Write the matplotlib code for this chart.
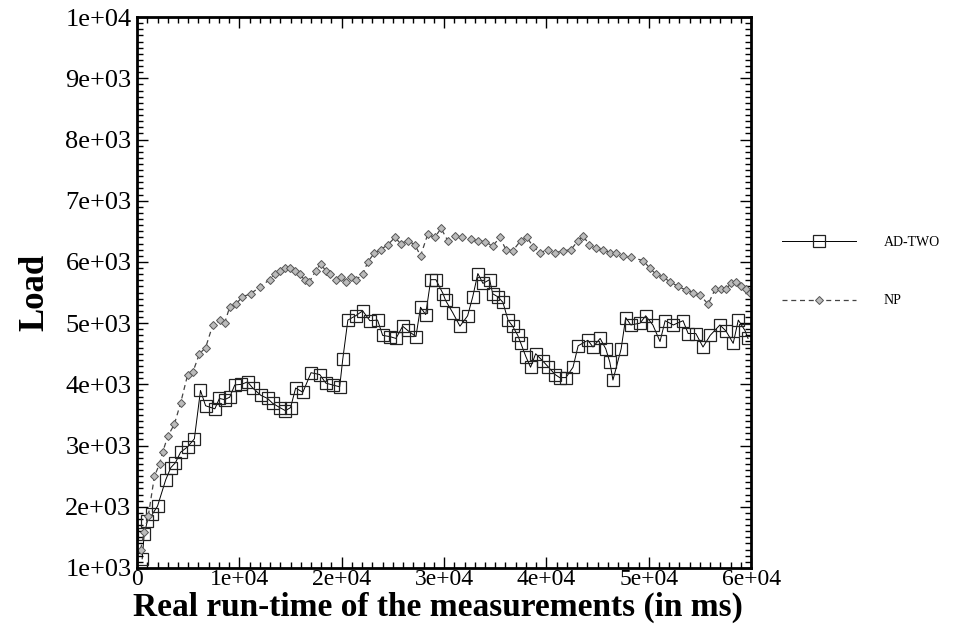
import matplotlib
matplotlib.use("Agg")
import matplotlib.pyplot as plt
from matplotlib.ticker import MultipleLocator, FuncFormatter

plt.rcParams["font.family"] = ["Liberation Serif", "DejaVu Serif"]

# AD-TWO series (time in ms, load)
ad_time = [500, 700, 1000, 1500, 2000, 2800, 3300, 3750, 4250, 4950,
           5600, 6200, 6700, 7600, 8050, 8550, 9050, 9550, 10200, 10800,
           11300, 12100, 12750, 13250, 13950, 14500, 15000, 15500, 16200, 17000,
           17850, 18450, 19100, 19800, 20100, 20600, 21350, 22050, 22750, 23500,
           24000, 24700, 25300, 25950, 26450, 27250, 27700, 28200, 28700, 29200,
           29900, 30150, 30850, 31550, 32300, 32800, 33300, 33800, 34450, 34750,
           35250, 35750, 36250, 36700, 37200, 37500, 38000, 38450, 38950, 39650,
           40150, 40850, 41300, 41900, 42600, 43100, 44050, 44550, 45250, 45800,
           46200, 46500, 47300, 47750, 48250, 49150, 49700, 50400, 51100, 51600,
           52400, 53350, 53850, 54600, 55300, 56000, 56950, 57550, 58250, 58750,
           59400, 59700]
ad_load = [1150, 1550, 1760, 1880, 2010, 2440, 2640, 2720, 2890, 2980,
           3110, 3900, 3650, 3600, 3770, 3750, 3790, 3990, 4000, 4040,
           3940, 3820, 3770, 3690, 3620, 3570, 3620, 3940, 3870, 4190,
           4160, 4020, 3990, 3960, 4410, 5050, 5120, 5200, 5040, 5050,
           4800, 4780, 4750, 4950, 4880, 4780, 5260, 5140, 5710, 5710,
           5480, 5370, 5170, 4950, 5120, 5430, 5810, 5650, 5710, 5480,
           5430, 5340, 5050, 4950, 4800, 4670, 4450, 4280, 4500, 4380,
           4290, 4160, 4110, 4110, 4280, 4630, 4720, 4610, 4750, 4580,
           4360, 4070, 4580, 5090, 4970, 5000, 5120, 4970, 4700, 5040,
           4970, 5040, 4830, 4830, 4610, 4800, 4970, 4870, 4670, 5050,
           4880, 4750]

# NP series (time in ms, load)
np_time = [350, 700, 1100, 1700, 2200, 2500, 3000, 3650, 4250, 4950,
           5450, 6100, 6700, 7400, 8150, 8550, 9050, 9650, 10300, 11100,
           12000, 12950, 13450, 13950, 14450, 14900, 15400, 15900, 16400, 16850,
           17450, 17950, 18450, 18900, 19400, 19900, 20400, 20900, 21350, 22050,
           22550, 23200, 23800, 24500, 25200, 25750, 26450, 27150, 27700, 28400,
           29100, 29700, 30350, 31050, 31800, 32600, 33300, 34000, 34750, 35450,
           36050, 36700, 37500, 38100, 38700, 39350, 40150, 40850, 41600, 42400,
           43100, 43600, 44200, 44850, 45550, 46200, 46800, 47500, 48250, 49450,
           50100, 50700, 51400, 52050, 52850, 53650, 54350, 55000, 55800, 56500,
           57050, 57550, 58050, 58550, 59000, 59500, 59900]
np_load = [1300, 1590, 1850, 2500, 2700, 2890, 3150, 3350, 3690, 4160,
           4200, 4500, 4600, 4970, 5050, 5000, 5260, 5310, 5430, 5480,
           5590, 5710, 5800, 5850, 5900, 5900, 5850, 5800, 5700, 5680,
           5850, 5970, 5850, 5800, 5700, 5750, 5680, 5760, 5700, 5800,
           6000, 6150, 6200, 6280, 6400, 6300, 6350, 6280, 6100, 6450,
           6400, 6550, 6350, 6420, 6400, 6380, 6350, 6330, 6260, 6400,
           6200, 6180, 6350, 6400, 6250, 6150, 6200, 6150, 6180, 6200,
           6350, 6420, 6280, 6220, 6200, 6150, 6150, 6100, 6080, 6020,
           5900, 5800, 5750, 5680, 5600, 5540, 5500, 5460, 5310, 5560,
           5550, 5560, 5650, 5680, 5600, 5560, 5500]

x_ticks = [0, 10000, 20000, 30000, 40000, 50000, 60000]
y_ticks = [1000, 2000, 3000, 4000, 5000, 6000, 7000, 8000, 9000, 10000]


def sci_label(v, pos):
    if v == 0:
        return "0"
    return f"{v:.0e}"


fig = plt.figure(figsize=(9.55, 6.26), dpi=100)
ax = fig.add_axes([0.1435, 0.0927, 0.643, 0.88])

ax.plot(ad_time, ad_load, color="black", linewidth=0.7, marker="s",
        markersize=9, markerfacecolor="none", markeredgecolor="#222222",
        markeredgewidth=0.9, label="AD-TWO")
ax.plot(np_time, np_load, color="#444444", linewidth=0.9, linestyle=(0, (4, 3)),
        marker="D", markersize=4.5, markerfacecolor="#bbbbbb",
        markeredgecolor="#555555", markeredgewidth=0.7, label="NP")

ax.set_xlim(0, 60000)
ax.set_ylim(1000, 10000)
ax.set_xticks(x_ticks)
ax.set_yticks(y_ticks)
ax.xaxis.set_minor_locator(MultipleLocator(1000))
ax.yaxis.set_minor_locator(MultipleLocator(100))
ax.xaxis.set_major_formatter(FuncFormatter(sci_label))
ax.yaxis.set_major_formatter(FuncFormatter(sci_label))

ax.tick_params(which="both", direction="in", top=True, right=True,
               width=1, colors="black")
ax.tick_params(which="major", length=8)
ax.tick_params(which="minor", length=4)
ax.tick_params(axis="y", labelsize=19, pad=4)
ax.tick_params(axis="x", labelsize=17, pad=1)
for s in ax.spines.values():
    s.set_linewidth(2)

ax.set_xlabel("Real run-time of the measurements (in ms)", fontsize=24,
              fontweight="bold")
ax.xaxis.set_label_coords(0.49, -0.043)
ax.set_ylabel("Load", fontsize=25, fontweight="bold", labelpad=10)

ax.legend(loc="upper left", bbox_to_anchor=(1.03, 0.626), frameon=False,
          fontsize=10, handlelength=5.3, labelspacing=3.3, handletextpad=2.0)

fig.savefig("out.png", dpi=100)
